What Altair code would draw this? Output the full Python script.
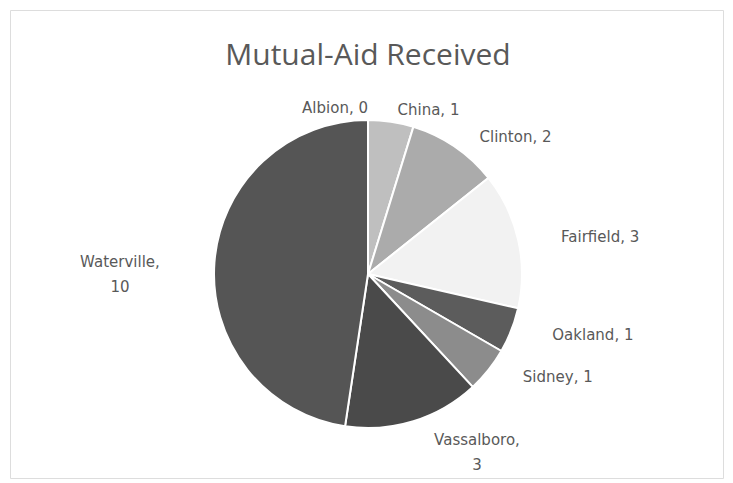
import altair as alt
import pandas as pd

TITLE = "Mutual-Aid Received"
towns = ["Albion", "China", "Clinton", "Fairfield", "Oakland", "Sidney", "Vassalboro", "Waterville"]
values = [0, 1, 2, 3, 1, 1, 3, 10]
labels = ["Albion, 0", "China, 1", "Clinton, 2", "Fairfield, 3", "Oakland, 1", "Sidney, 1", "Vassalboro,\n3", "Waterville,\n10"]
colors = ["#d0d0d0", "#bfbfbf", "#ababab", "#f2f2f2", "#5c5c5c", "#8c8c8c", "#4a4a4a", "#555555"]

df = pd.DataFrame({"town": towns, "value": values, "label": labels, "order": list(range(len(towns)))})

W, H = 713, 468
CX, CY = 358, 264
R = 154
LA, LB = 198, 166

base = alt.Chart(df)

pie = base.mark_arc(outerRadius=R, stroke="white", strokeWidth=2).encode(
    theta=alt.Theta("value:Q", stack=True),
    order=alt.Order("order:Q"),
    color=alt.Color("town:N", scale=alt.Scale(domain=towns, range=colors), legend=None),
    x=alt.value(CX),
    y=alt.value(CY),
)

lab = base.transform_window(
    cum="sum(value)", sort=[alt.SortField("order")], frame=[None, 0]
).transform_joinaggregate(total="sum(value)").transform_calculate(
    mid="(datum.cum - datum.value/2) / datum.total * 2 * PI",
).transform_calculate(
    s="sin(datum.mid)",
    c="cos(datum.mid)",
    multi="indexof(datum.label, '\\n') >= 0",
    first="split(datum.label, '\\n')[0]",
).transform_calculate(
    lx=f"{CX} + {LA} * datum.s + (datum.multi ? (datum.s > 0 ? 1 : -1) * 4.6 * length(datum.first) : 0)",
    ly=f"{CY} - {LB} * datum.c",
    kind="datum.multi ? (datum.c < -0.7 ? 'CT' : 'CM') : (datum.s > 0.0001 ? 'L' : 'R')",
)

text_style = dict(font="DejaVu Sans", fontSize=15, color="#595959", lineBreak="\n", lineHeight=25)


def label_layer(kind, align, baseline):
    return lab.transform_filter(f"datum.kind == '{kind}'").mark_text(
        align=align, baseline=baseline, **text_style
    ).encode(x=alt.X("lx:Q", scale=None), y=alt.Y("ly:Q", scale=None), text="label:N")


layers = [
    label_layer("L", "left", "middle"),
    label_layer("R", "right", "middle"),
    label_layer("CM", "center", "middle"),
    label_layer("CT", "center", "top"),
]

title = alt.Chart(pd.DataFrame({"t": [TITLE]})).mark_text(
    font="Open Sans", fontSize=30, color="#595959", align="center", baseline="middle"
).encode(text="t:N", x=alt.value(CX), y=alt.value(46))

chart = alt.layer(pie, *layers, title).properties(
    width=W, height=H, autosize=alt.AutoSizeParams(type="none"),
    padding={"left": 2, "top": 2, "right": 2, "bottom": 2},
).configure_view(stroke="#c8c8c8", strokeWidth=1.5).configure(background="white")

chart.save("out.html", embed_options={"renderer": "svg", "actions": False})
